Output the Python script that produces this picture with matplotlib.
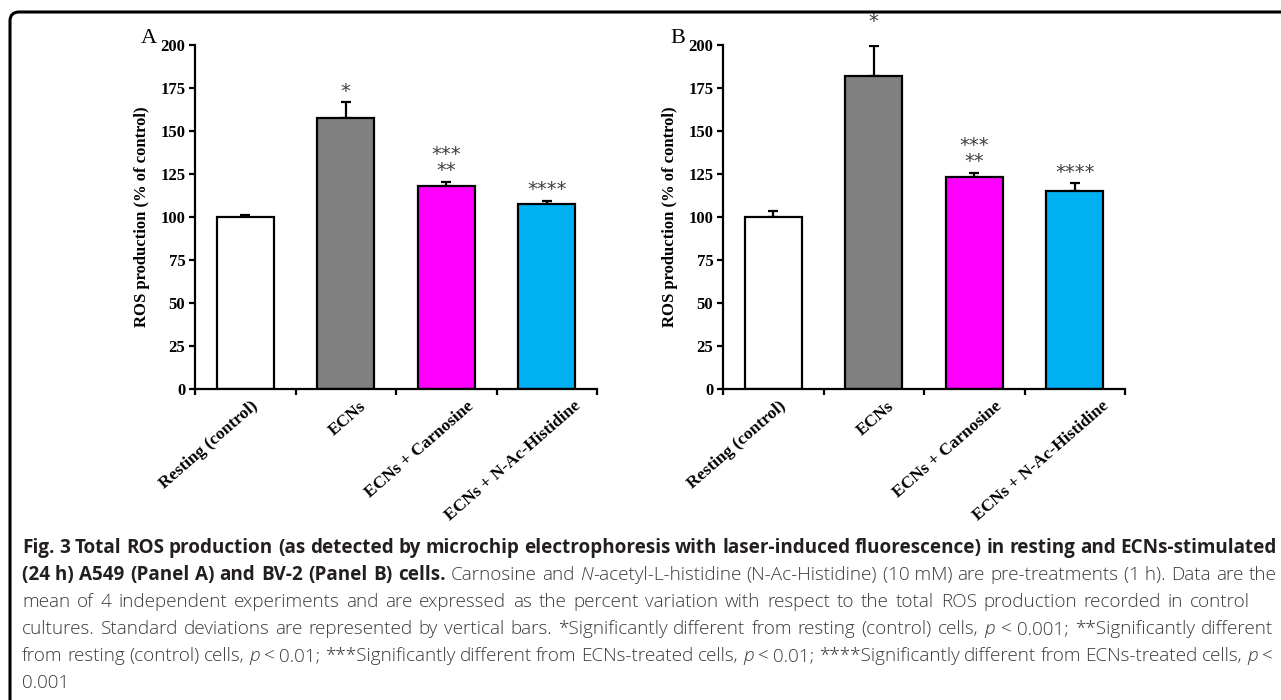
import matplotlib

matplotlib.use("Agg")
import matplotlib.pyplot as plt  # noqa: E402
import matplotlib.transforms as mtransforms  # noqa: E402
from matplotlib.path import Path  # noqa: E402
from matplotlib.patches import PathPatch  # noqa: E402
import numpy as np  # noqa: E402

# data
CATS = ["Resting (control)", "ECNs", "ECNs + Carnosine", "ECNs + N-Ac-Histidine"]
COLORS = ["#ffffff", "#808080", "#ff00ff", "#00b0f0"]
A_MEAN = [100, 157.4, 117.8, 107.7]
A_SD = [1.3, 9.2, 2.7, 1.8]
B_MEAN = [100, 181.7, 123.2, 114.9]
B_SD = [3.2, 17.5, 2.4, 4.6]
STARS = ["", "*", "***\n**", "****"]
YTICKS = [0, 25, 50, 75, 100, 125, 150, 175, 200]

CAPTION = [
    [("Fig. 3 Total ROS production (as detected by microchip electrophoresis with laser-induced "
      "fluorescence) in resting and ECNs-stimulated", "b")],
    [("(24\u00a0h) A549 (Panel A) and BV-2 (Panel B) cells.", "b"), (" Carnosine and ", "n"), ("N", "i"),
     ("-acetyl-L-histidine (N-Ac-Histidine) (10\u00a0mM) are pre-treatments (1\u00a0h). Data are the", "n")],
    [("mean of 4 independent experiments and are expressed as the percent variation with respect to "
      "the total ROS production recorded in control", "n")],
    [("cultures. Standard deviations are represented by vertical bars. *Significantly different from "
      "resting (control) cells, ", "n"), ("p", "i"), (" < 0.001; **Significantly different", "n")],
    [("from resting (control) cells, ", "n"), ("p", "i"),
     (" < 0.01; ***Significantly different from ECNs-treated cells, ", "n"), ("p", "i"),
     (" < 0.01; ****Significantly different from ECNs-treated cells, ", "n"), ("p", "i"), (" <", "n")],
    [("0.001", "n")],
]
CAP_RIGHT = [1277, 1277, 1250, 1273, 1273, None]

SERIF = "Liberation Serif"
CAP_FONT = ["Open Sans", "DejaVu Sans"]
CAP_STYLE = {
    "b": dict(fontweight="bold", fontstyle="normal", color="#231f20"),
    "n": dict(fontweight="light", fontstyle="normal", color="#3a3a3a"),
    "i": dict(fontweight="light", fontstyle="italic", color="#3a3a3a"),
}

W, H = 1281, 700


def panel(fig, rect, means, sds, letter, star_pad):
    ax = fig.add_axes(rect)
    x = np.arange(len(CATS))
    ax.bar(x, means, width=0.57, color=COLORS, edgecolor="black", linewidth=1.6, zorder=2)
    ax.errorbar(x, means, yerr=[np.zeros(len(sds)), sds], fmt="none", ecolor="black",
                elinewidth=1.6, capsize=3.5, capthick=1.6, zorder=1)
    for xi, m, s, st in zip(x, means, sds, STARS):
        if st:
            pad = star_pad if st == "*" else 1.0
            ax.text(xi, m + s + pad, st, ha="center", va="bottom", fontsize=14,
                    color="#404040", family="DejaVu Sans", linespacing=0.8, clip_on=False)
    ax.set_xlim(-0.5, len(CATS) - 0.5)
    ax.set_ylim(0, 200)
    for side in ("top", "right"):
        ax.spines[side].set_visible(False)
    for side in ("left", "bottom"):
        ax.spines[side].set_linewidth(1.6)
    ax.set_yticks(YTICKS)
    ax.set_yticklabels([str(v) for v in YTICKS], family=SERIF, fontweight="bold", fontsize=12)
    ax.tick_params(axis="y", direction="out", length=4, width=1.6, pad=3)
    ax.set_xticks(x)
    ax.set_xticks(np.arange(-0.5, len(CATS)), minor=True)
    ax.tick_params(axis="x", which="major", length=0, pad=11)
    ax.tick_params(axis="x", which="minor", direction="out", length=4, width=1.6)
    ax.set_xticklabels(CATS, rotation=41, ha="right", va="center", rotation_mode="anchor",
                       family=SERIF, fontweight="bold", fontsize=12.5)
    for i, lab in enumerate(ax.get_xticklabels()):
        off = mtransforms.ScaledTranslation((11 + 7 * i) / 100, 0, fig.dpi_scale_trans)
        lab.set_transform(lab.get_transform() + off)
    ax.set_ylabel("ROS production (% of control)", family=SERIF, fontweight="bold",
                  fontsize=12, labelpad=7)
    ax.text(-0.095, 0.99, letter, transform=ax.transAxes, ha="right", va="bottom",
            family=SERIF, fontsize=16)
    return ax


def draw_caption(fig, lines, rights, x0, base0, step):
    renderer = fig.canvas.get_renderer()
    ident = mtransforms.IdentityTransform()
    for li, runs in enumerate(lines):
        chars = [(c, st) for text, st in runs for c in text]
        words, cur = [], []
        for c, st in chars:
            if c == " ":
                if cur:
                    words.append(cur)
                    cur = []
            elif cur and cur[-1][1] == st:
                cur[-1] = (cur[-1][0] + c, st)
            else:
                cur.append((c, st))
        if cur:
            words.append(cur)
        y = H - (base0 + li * step)
        arts = []
        for w in words:
            parts = []
            for t, st in w:
                a = fig.text(0, y, t, transform=ident, family=CAP_FONT, fontsize=13.6,
                             va="baseline", ha="left", **CAP_STYLE[st])
                parts.append((a, a.get_window_extent(renderer).width))
            arts.append(parts)
        widths = [sum(wd for _, wd in p) for p in arts]
        if rights[li] is None or len(arts) < 2:
            gap = 4.5
        else:
            gap = (rights[li] - x0 - sum(widths)) / (len(arts) - 1)
        xx = x0
        for parts, wd in zip(arts, widths):
            px = xx
            for a, pw in parts:
                a.set_x(px)
                px += pw
            xx += wd + gap


fig = plt.figure(figsize=(W / 100, H / 100), dpi=100)
panel(fig, [195 / W, 1 - 389 / H, 402 / W, 344 / H], A_MEAN, A_SD, "A", 1.0)
panel(fig, [723 / W, 1 - 389 / H, 402 / W, 344 / H], B_MEAN, B_SD, "B", 9.0)

# open frame with a rounded top-left corner
r = 9
verts = [(10 / W, 0), (10 / W, 1 - (12 + r) / H), (10 / W, 1 - 12 / H),
         ((10 + r) / W, 1 - 12 / H), (1.0, 1 - 12 / H)]
codes = [Path.MOVETO, Path.LINETO, Path.CURVE3, Path.CURVE3, Path.LINETO]
fig.patches.append(PathPatch(Path(verts, codes), transform=fig.transFigure, fill=False,
                             edgecolor="black", linewidth=2.2))

draw_caption(fig, CAPTION, CAP_RIGHT, 22, 553, 27)

fig.savefig("out.png", dpi=100)
